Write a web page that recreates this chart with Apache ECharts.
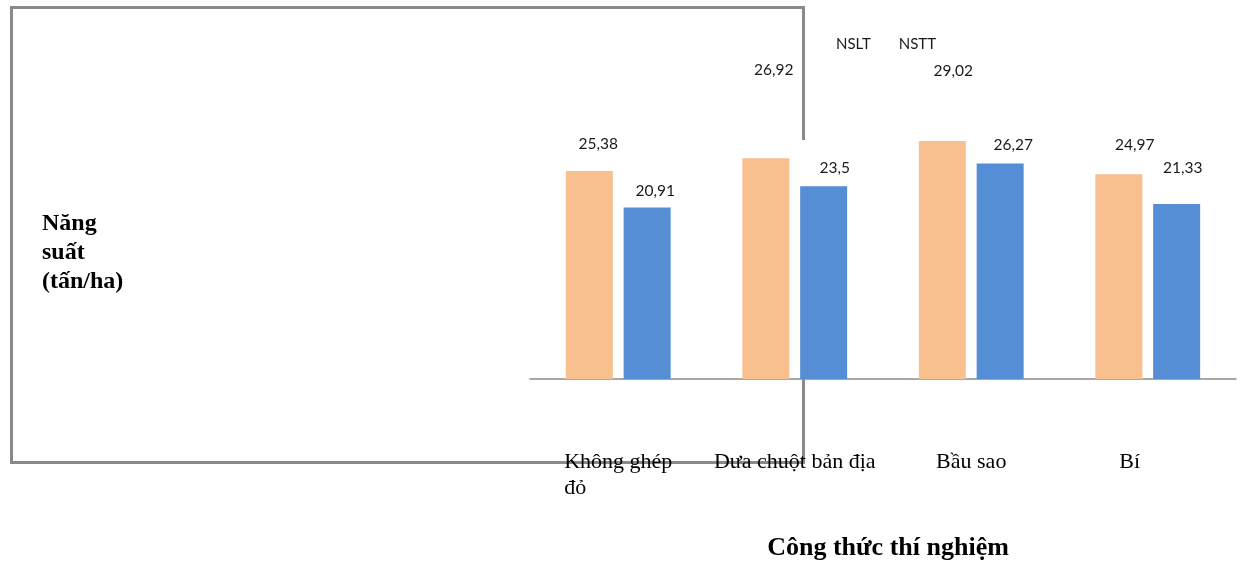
<!DOCTYPE html>
<html><head><meta charset="utf-8">
<script src="https://cdn.jsdelivr.net/npm/echarts@6/dist/echarts.min.js"></script>
<style>html,body{margin:0;padding:0;background:#fff}#c{width:1244px;height:566px}</style>
</head><body><div id="c"></div>
<script>
const categories = ['Không ghép đỏ', 'Dưa chuột bản địa', 'Bầu sao', 'Bí'];
const seriesNames = ['NSLT', 'NSTT'];
const nslt = [25.38, 26.92, 29.02, 24.97];
const nstt = [20.91, 23.5, 26.27, 21.33];
const yAxisName = ['Năng', 'suất', '(tấn/ha)'];
const xAxisName = 'Công thức thí nghiệm';

// label placement tweaks (style only)
const shiftA = [[9,-14],[8,-75],[11,-57],[16,-16]];
const shiftB = [[8,-4],[11,-5],[13,-6],[6,-23]];

const labelFont = {fontFamily:'Lato', fontSize:15.5, color:'#1a1a1a'};
function fmt(p){ return String(p.value).replace('.', ','); }
function build(vals, shifts){
  return vals.map((v,i)=>({value:v, label:{offset:shifts[i]}}));
}
const chart = echarts.init(document.getElementById('c'));
const lf = {fontFamily:'Liberation Serif', fontSize:22, color:'#000', lineHeight:26};
chart.setOption({
  animation:false,
  backgroundColor:'#fff',
  legend:{
    data:seriesNames, left:826, top:32, itemWidth:0, itemHeight:0, itemGap:23,
    textStyle:{fontFamily:'Lato', fontSize:15, color:'#1a1a1a'}
  },
  grid:{left:530, right:8, top:10, bottom:187},
  xAxis:{
    type:'category', data:categories,
    axisLine:{lineStyle:{color:'#8c8c8c', width:1.5}},
    axisTick:{show:false},
    axisLabel:Object.assign({
      margin:70, interval:0,
      formatter:function(v){
        if (v === 'Không ghép đỏ') return '{c|Không ghép}\n{l|đỏ}';
        if (v === 'Bí') return '{s|Bí}';
        return v;
      },
      rich:{
        c:Object.assign({}, lf),
        l:Object.assign({align:'left'}, lf),
        s:Object.assign({padding:[0,36,0,0]}, lf)
      }
    }, lf)
  },
  yAxis:{type:'value', min:0, max:45, show:false, splitLine:{show:false}},
  graphic:[
    {type:'rect', z:0, shape:{x:11.5, y:7.5, width:792, height:455},
     style:{fill:'none', stroke:'#8a8a8a', lineWidth:3}},
    {type:'rect', z:1, shape:{x:520, y:140, width:724, height:237},
     style:{fill:'#fff'}},
    {type:'text', z:3, left:42, top:209,
     style:{text:yAxisName.join('\n'), font:'bold 24px "Liberation Serif"', lineHeight:29, fill:'#000'}},
    {type:'text', z:3, x:888, y:548,
     style:{text:xAxisName, font:'bold 26px "Liberation Serif"', fill:'#000', textAlign:'center', textVerticalAlign:'middle'}}
  ],
  series:[
    {name:seriesNames[0], type:'bar', data:build(nslt, shiftA), barWidth:47, barGap:'23%',
     itemStyle:{color:'#F8C08E'},
     label:Object.assign({show:true, position:'top', distance:5, formatter:fmt}, labelFont)},
    {name:seriesNames[1], type:'bar', data:build(nstt, shiftB), barWidth:47, barGap:'23%',
     itemStyle:{color:'#558ED5'},
     label:Object.assign({show:true, position:'top', distance:5, formatter:fmt}, labelFont)}
  ]
});
</script></body></html>
